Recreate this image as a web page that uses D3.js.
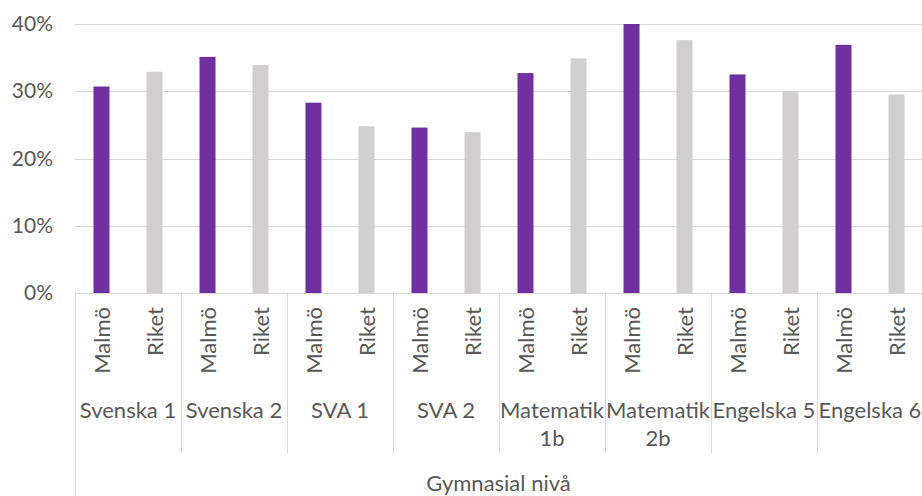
<!DOCTYPE html>
<html>
<head>
<meta charset="utf-8">
<script src="https://cdn.jsdelivr.net/npm/d3@7"></script>
<style>
  html, body { margin: 0; padding: 0; background: #fff; }
  svg { display: block; }
  text { font-family: Lato, "Open Sans", sans-serif; fill: #595959; }
</style>
</head>
<body>
<svg id="chart" width="922" height="496"></svg>
<script>
const groups = ["Svenska 1", "Svenska 2", "SVA 1", "SVA 2", "Matematik 1b", "Matematik 2b", "Engelska 5", "Engelska 6"];
const groupLines = [["Svenska 1"], ["Svenska 2"], ["SVA 1"], ["SVA 2"], ["Matematik", "1b"], ["Matematik", "2b"], ["Engelska 5"], ["Engelska 6"]];
const series = ["Malmö", "Riket"];
const malmo = [30.7, 35.1, 28.3, 24.6, 32.7, 40.0, 32.5, 36.9];
const riket = [32.9, 33.9, 24.8, 23.9, 34.9, 37.6, 29.9, 29.5];
const yTicks = [0, 10, 20, 30, 40];
const outerLabel = "Gymnasial nivå";
const colors = { "Malmö": "#7030a0", "Riket": "#d0cece" };

const svg = d3.select("#chart");
const mLeft = 75, mRight = 923, mTop = 24, mBottom = 293;
const catFont = "22px";

const x = d3.scaleBand().domain(groups).range([mLeft, mRight]).padding(0);
const xi = d3.scaleBand().domain(series).range([0, x.bandwidth()]).paddingInner(0.698).paddingOuter(0.349);
const y = d3.scaleLinear().domain([0, 40]).range([mBottom, mTop]);

// gridlines
svg.append("g")
  .selectAll("line").data(yTicks).join("line")
  .attr("x1", mLeft).attr("x2", 922)
  .attr("y1", d => Math.round(y(d)) + 0.5).attr("y2", d => Math.round(y(d)) + 0.5)
  .attr("stroke", "#d9d9d9").attr("stroke-width", 1);

// y axis labels
const yAxis = d3.axisLeft(y).tickValues(yTicks).tickFormat(d => d + "%").tickSize(0).tickPadding(0);
const ya = svg.append("g").attr("transform", `translate(53,0)`).call(yAxis);
ya.select(".domain").remove();
ya.selectAll("text").style("font-size", "21px").attr("fill", "#595959").style("font-family", "Lato, sans-serif");

// bars
const data = [];
groups.forEach((g, i) => {
  data.push({ g, s: "Malmö", v: malmo[i] });
  data.push({ g, s: "Riket", v: riket[i] });
});
svg.append("g").selectAll("rect").data(data).join("rect")
  .attr("x", d => x(d.g) + xi(d.s))
  .attr("width", xi.bandwidth())
  .attr("y", d => y(d.v))
  .attr("height", d => y(0) - y(d.v))
  .attr("fill", d => colors[d.s]);

// separators
const sepColor = "#d9d9d9";
svg.append("g").selectAll("line").data(groups.slice(1)).join("line")
  .attr("x1", d => Math.round(x(d)) + 0.5).attr("x2", d => Math.round(x(d)) + 0.5)
  .attr("y1", mBottom).attr("y2", 453)
  .attr("stroke", sepColor);
svg.append("line")
  .attr("x1", mLeft + 0.5).attr("x2", mLeft + 0.5)
  .attr("y1", mBottom).attr("y2", 496)
  .attr("stroke", sepColor);

// series labels (rotated)
svg.append("g").selectAll("text").data(data).join("text")
  .attr("transform", d => `translate(${x(d.g) + xi(d.s) + xi.bandwidth() / 2 + 8.5},307) rotate(-90)`)
  .attr("text-anchor", "end")
  .style("font-size", catFont)
  .text(d => d.s);

// group labels
const gl = svg.append("g").selectAll("text").data(groups).join("text")
  .attr("x", d => x(d) + x.bandwidth() / 2)
  .attr("y", 418)
  .attr("text-anchor", "middle")
  .style("font-size", catFont);
gl.each(function(d, i) {
  const t = d3.select(this);
  groupLines[i].forEach((line, j) => {
    t.append("tspan").attr("x", x(d) + x.bandwidth() / 2).attr("dy", j === 0 ? 0 : 28).text(line);
  });
});

// outer label
svg.append("text")
  .attr("x", (mLeft + 922) / 2).attr("y", 491)
  .attr("text-anchor", "middle")
  .style("font-size", catFont)
  .text(outerLabel);
</script>
</body>
</html>
